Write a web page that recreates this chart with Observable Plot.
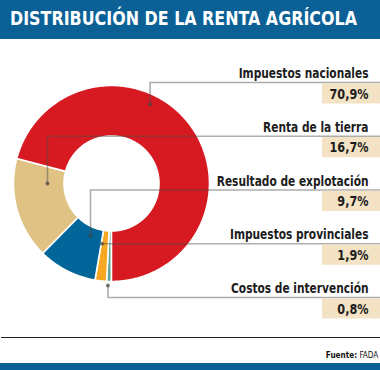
<!DOCTYPE html>
<html>
<head>
<meta charset="utf-8">
<script src="https://cdn.jsdelivr.net/npm/d3@7"></script>
<script src="https://cdn.jsdelivr.net/npm/@observablehq/plot@0.6"></script>
<style>
  html, body { margin: 0; padding: 0; background: #fff; }
  #wrap { width: 380px; height: 370px; position: relative; overflow: hidden; font-family: "DejaVu Sans Condensed", "Liberation Sans", sans-serif; }
  #title { height: 39px; background: #0b6196; color: #fff; position: relative; overflow: hidden; }
  #title span { position: absolute; left: 10px; top: 9px; font-weight: bold; font-size: 19.5px; line-height: 20px; white-space: nowrap; transform-origin: 0 0; }
  #chart svg { display: block; }
  #foot { position: absolute; left: 1px; right: 0; top: 337px; border-top: 1.6px solid #1e1e1e; height: 26px; }
  #src { position: absolute; right: 2px; top: 12px; font-size: 9px; color: #111; transform-origin: 100% 0; transform: scaleX(0.9); }
  #bar { position: absolute; left: 0; right: 0; top: 363px; height: 7px; background: #0b6196; }
</style>
</head>
<body>
<div id="wrap">
  <div id="title"><span>DISTRIBUCIÓN DE LA RENTA AGRÍCOLA</span></div>
  <div id="chart"></div>
  <div id="foot"><div id="src"><b>Fuente:</b> FADA</div></div>
  <div id="bar"></div>
</div>
<script>
// ---- data ----
const categories = ["Impuestos nacionales", "Renta de la tierra", "Resultado de explotación", "Impuestos provinciales", "Costos de intervención"];
const values = [70.9, 16.7, 9.7, 1.9, 0.8];
const valueLabels = ["70,9%", "16,7%", "9,7%", "1,9%", "0,8%"];

// ---- style / layout ----
const colors = ["#d71a21", "#e0c285", "#03669a", "#f7a823", "#5fa697"];
const W = 380, H = 299;
const cx = 111, cy = 144, R = 98, r0 = 47.5;
const rowTop = 43, rowStep = 53.75;
const anchorAngle = [26, 270, 202, 189, 182];   // degrees clockwise from top
const anchorRadius = [88, 64, 56, 61, 102];
const font = '"DejaVu Sans Condensed", "Liberation Sans", sans-serif';

const total = d3.sum(values);
const rad = d => d * Math.PI / 180;
const px = (a, rr) => cx + rr * Math.sin(rad(a));
const py = (a, rr) => cy - rr * Math.cos(rad(a));

// slices drawn clockwise from the bottom, last category first
const slices = [];
let acc = 180;
for (let i = categories.length - 1; i >= 0; i--) {
  const a0 = acc, a1 = acc + values[i] / total * 360;
  acc = a1;
  const pts = [];
  const n = Math.max(4, Math.ceil((a1 - a0) * 2));
  for (let k = 0; k <= n; k++) { const a = a0 + (a1 - a0) * k / n; pts.push({x: px(a, R), y: py(a, R)}); }
  for (let k = n; k >= 0; k--) { const a = a0 + (a1 - a0) * k / n; pts.push({x: px(a, r0), y: py(a, r0)}); }
  slices.push({i, pts});
}

const rows = categories.map((c, i) => {
  const ry = rowTop + i * rowStep;
  const ax = px(anchorAngle[i], anchorRadius[i]);
  const ay = py(anchorAngle[i], anchorRadius[i]);
  return {i, c, v: valueLabels[i], ry, ax, ay,
    leader: [{x: ax, y: ay}, {x: ax, y: ry}, {x: W, y: ry}]};
});

const marks = [];
for (const s of slices) {
  marks.push(Plot.line(s.pts, {x: "x", y: "y", fill: colors[s.i], stroke: "white", strokeWidth: 1.6, curve: "linear-closed"}));
}
for (const rw of rows) {
  marks.push(Plot.line(rw.leader, {x: "x", y: "y", stroke: "#4a4a4a", strokeOpacity: 0.45, strokeWidth: 1.6}));
}
marks.push(Plot.dot(rows, {x: "ax", y: "ay", r: 2, fill: "#444", fillOpacity: 0.7}));
marks.push(Plot.rect(rows, {x1: () => 322, x2: () => W, y1: d => d.ry + 1.3, y2: d => d.ry + 21.5, fill: "#f3e3c4"}));
marks.push(Plot.text(rows, {x: () => 368, y: d => d.ry - 4.5, text: "c", textAnchor: "end", lineAnchor: "bottom", fontSize: 14, fontWeight: "bold", fill: "#1c1c1c"}));
marks.push(Plot.text(rows, {x: () => 368, y: d => d.ry + 16, text: "v", textAnchor: "end", lineAnchor: "bottom", fontSize: 14.5, fontWeight: "bold", fill: "#1c1c1c"}));

const chart = Plot.plot({
  width: W, height: H,
  margin: 0,
  x: {domain: [0, W], range: [0, W], axis: null},
  y: {domain: [0, H], range: [0, H], axis: null},
  style: {fontFamily: font, background: "transparent"},
  marks
});
document.getElementById("chart").appendChild(chart);

// condense texts horizontally to the narrow typeface of the original (right edge kept in place)
const groups = chart.querySelectorAll('g[aria-label="text"]');
function condense(g, refIndex, refWidth) {
  const texts = Array.from(g.querySelectorAll("text"));
  const k = refWidth / texts[refIndex].getComputedTextLength();
  for (const t of texts) {
    const tr = t.getAttribute("transform") || "";
    t.setAttribute("transform", `${tr} scale(${k.toFixed(4)},1)`);
  }
}
condense(groups[0], 0, 130);
condense(groups[1], 0, 39);

const span = document.querySelector("#title span");
span.style.transform = `scaleX(${347 / span.getBoundingClientRect().width})`;
</script>
</body>
</html>
